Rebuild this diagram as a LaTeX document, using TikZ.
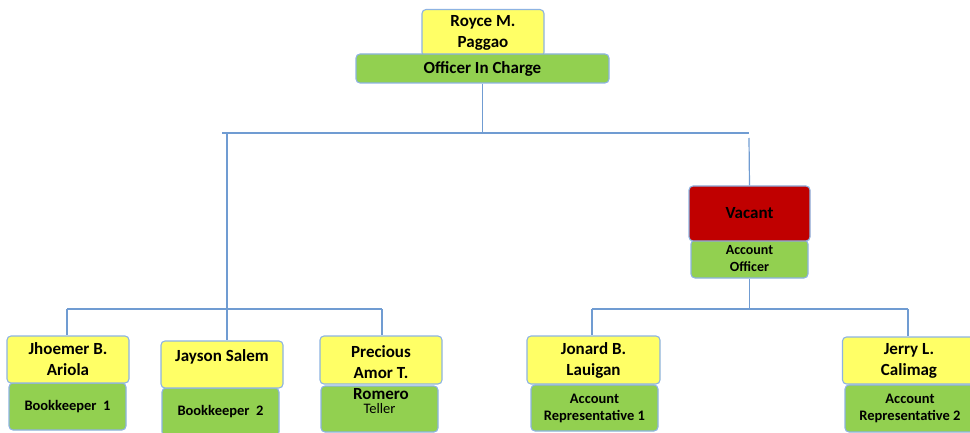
\documentclass[tikz,border=0pt]{standalone}
\usepackage{fontspec}
\setmainfont{Carlito}
\definecolor{boxline}{RGB}{141,179,226}
\definecolor{linkblue}{RGB}{112,156,210}
\definecolor{nameyellow}{RGB}{255,255,102}
\definecolor{rolegreen}{RGB}{146,208,80}
\definecolor{vacantred}{RGB}{192,0,0}
\tikzset{
  box/.style={draw=boxline, line width=1.1pt, rounded corners=4pt,
    inner sep=0pt, align=center, text=black},
  namebox/.style={box, fill=nameyellow, font=\fontsize{17}{21}\selectfont\bfseries},
  rolebox/.style={box, fill=rolegreen, font=\fontsize{14.5}{17}\selectfont\bfseries},
  redbox/.style={box, fill=vacantred, font=\fontsize{17}{21}\selectfont\bfseries},
  link/.style={draw=linkblue, line width=1.2pt},
}
\begin{document}
\begin{tikzpicture}[x=1pt,y=-1pt]
\useasboundingbox (0,0) rectangle (970,433);

% --- head of the office
\node[namebox, minimum width=122pt, minimum height=47pt] (royce) at (483,33) {Royce M.\\Paggao};
\node[rolebox, font=\fontsize{17}{21}\selectfont\bfseries, minimum width=253pt, minimum height=29pt] (officer) at (482.5,68.5) {Officer In Charge};

% --- account officer (vacant)
\node[rolebox, font=\fontsize{14}{17}\selectfont\bfseries, minimum width=117pt, minimum height=38pt] (acctoff) at (749.5,259) {Account\\Officer};
\node[redbox, minimum width=121pt, minimum height=55pt] (vacant) at (749.5,213.5) {Vacant};

% --- staff: role boxes first, name boxes on top
\node[rolebox, minimum width=117pt, minimum height=47pt] (bk1) at (67.5,406.5) {Bookkeeper\ \ 1};
\node[namebox, minimum width=122pt, minimum height=47pt] (jhoemer) at (68,359.5) {Jhoemer B.\\Ariola};

\node[rolebox, minimum width=117pt, minimum height=48pt] (bk2) at (220.5,412) {Bookkeeper\ \ 2};
\node[namebox, minimum width=122pt, minimum height=47pt] (jayson) at (222,364.5) {Jayson Salem\\[-4pt]\mbox{}};

\node[rolebox, font=\fontsize{14.5}{17}\selectfont, minimum width=117pt, minimum height=46pt] (teller) at (379.5,409) {Teller};
\node[namebox, minimum width=122pt, minimum height=48pt] (precious) at (381,360) {};

\node[rolebox, minimum width=127pt, minimum height=46pt] (ar1) at (594.5,408) {Account\\Representative 1};
\node[namebox, minimum width=133pt, minimum height=48pt] (jonard) at (593.5,360) {Jonard B.\\Lauigan};

\node[rolebox, minimum width=130pt, minimum height=47pt] (ar2) at (910,408.5) {Account\\Representative 2};
\node[namebox, minimum width=133pt, minimum height=47pt] (jerry) at (909,360.5) {Jerry L.\\Calimag};

% the three-line name runs past its box into the role box below
\node[align=center, inner sep=0pt, font=\fontsize{17}{21}\selectfont\bfseries] (precious-name) at (381,373) {Precious\\Amor T.\\Romero};

% --- connectors
\coordinate (busL) at (222,133);
\coordinate (busR) at (749,133);
\coordinate (jtop) at (227,133);
\coordinate (vtop) at (749,138);
\draw[link] (officer.south) -- (officer.south |- busL);
\draw[link] (busL) -- (busR);
\draw[link] (jtop) -- (jtop |- jayson.north);
\draw[link] (vtop) -- (vacant.north);

\coordinate (lbusL) at (67,309);
\coordinate (lbusR) at (382,309);
\draw[link] (lbusL) -- (lbusR);
\draw[link] (lbusL) -- (lbusL |- jhoemer.north);
\draw[link] (lbusR) -- (lbusR |- precious.north);

\coordinate (rbusL) at (592,309);
\coordinate (rbusR) at (908,309);
\draw[link] (acctoff.south) -- (acctoff.south |- rbusL);
\draw[link] (rbusL) -- (rbusR);
\draw[link] (rbusL) -- (rbusL |- jonard.north);
\draw[link] (rbusR) -- (rbusR |- jerry.north);
\end{tikzpicture}
\end{document}
